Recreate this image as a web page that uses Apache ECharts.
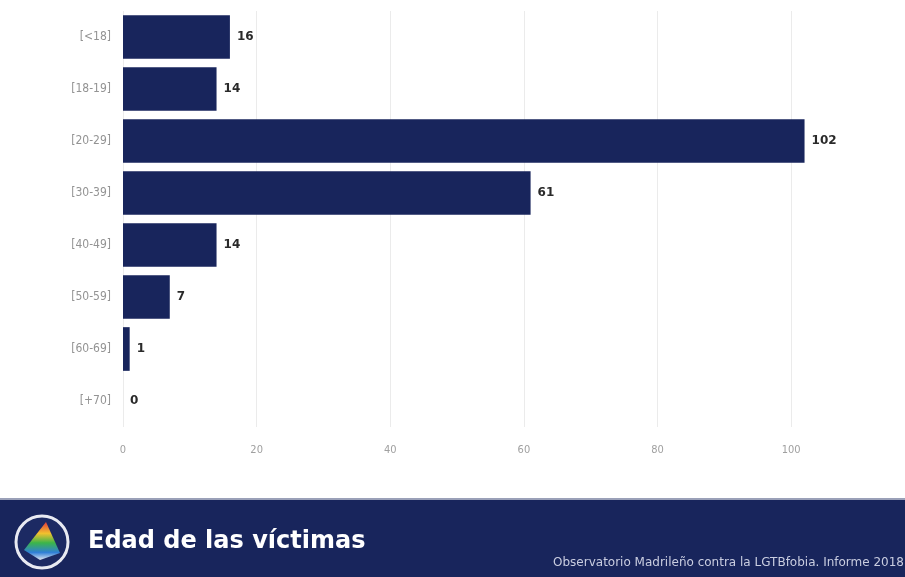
<!DOCTYPE html>
<html><head><meta charset="utf-8">
<script src="https://cdn.jsdelivr.net/npm/echarts@6/dist/echarts.min.js"></script>
<style>html,body{margin:0;padding:0;background:#fff}#c{width:905px;height:577px}</style>
</head><body><div id="c"></div>
<script>
const categories = ['[<18]', '[18-19]', '[20-29]', '[30-39]', '[40-49]', '[50-59]', '[60-69]', '[+70]'];
const values = [16, 14, 102, 61, 14, 7, 1, 0];
const xTicks = [0, 20, 40, 60, 80, 100];
const titleText = 'Edad de las víctimas';
const sourceText = 'Observatorio Madrileño contra la LGTBfobia. Informe 2018';

const chart = echarts.init(document.getElementById('c'), null, {renderer: 'canvas'});
chart.setOption({
  backgroundColor: '#ffffff',
  animation: false,
  grid: {left: 123, right: 47, top: 11, bottom: 150, containLabel: false},
  xAxis: {
    type: 'value', min: 0, max: 110, interval: 20,
    axisLine: {show: false}, axisTick: {show: false},
    splitLine: {show: true, showMaxLine: false, lineStyle: {color: '#ebebeb', width: 1}},
    axisLabel: {showMaxLabel: false, color: '#a0a0a0', fontSize: 11, margin: 18,
      fontFamily: 'Liberation Sans Narrow, DejaVu Sans Condensed, sans-serif',
      formatter: v => xTicks.includes(v) ? String(v) : ''}
  },
  yAxis: {
    type: 'category', data: categories, inverse: true,
    axisLine: {show: false}, axisTick: {show: false},
    axisLabel: {color: '#939393', fontSize: 12, margin: 12,
      fontFamily: 'Liberation Sans Narrow, DejaVu Sans Condensed, sans-serif'}
  },
  series: [{
    type: 'bar', data: values, barCategoryGap: '16%',
    itemStyle: {color: '#18255c'},
    label: {show: true, position: 'right', distance: 7, color: '#2a2a2a', fontWeight: 'bold',
      fontSize: 12, fontFamily: 'DejaVu Sans, sans-serif'}
  }],
  graphic: [
    {type: 'rect', shape: {x: 0, y: 500, width: 905, height: 77}, style: {fill: '#18255c'}, z: 10},
    {type: 'rect', shape: {x: 0, y: 498, width: 905, height: 2}, style: {fill: '#9aa0b8'}, z: 10},
    {type: 'circle', shape: {cx: 42, cy: 542, r: 26}, style: {fill: '#1c2a63', stroke: '#e8eaf2', lineWidth: 3}, z: 11},
    {type: 'polygon', shape: {points: [[46, 522], [24, 550], [40, 560], [60, 553]]},
      style: {fill: new echarts.graphic.LinearGradient(0, 0, 0, 1, [
        {offset: 0, color: '#e23b3b'}, {offset: 0.3, color: '#f2c12e'},
        {offset: 0.55, color: '#3bb54a'}, {offset: 0.8, color: '#2f7fd6'}, {offset: 1, color: '#dfe6f0'}])}, z: 12},
    {type: 'text', x: 88, y: 542, style: {text: titleText, fill: '#ffffff', fontSize: 24, fontWeight: 'bold',
      fontFamily: 'DejaVu Sans, sans-serif', verticalAlign: 'middle'}, z: 12},
    {type: 'text', x: 904, y: 563, style: {text: sourceText, fill: '#c9cde0', fontSize: 12,
      fontFamily: 'DejaVu Sans, sans-serif', align: 'right', verticalAlign: 'middle'}, z: 12}
  ]
});
</script></body></html>
